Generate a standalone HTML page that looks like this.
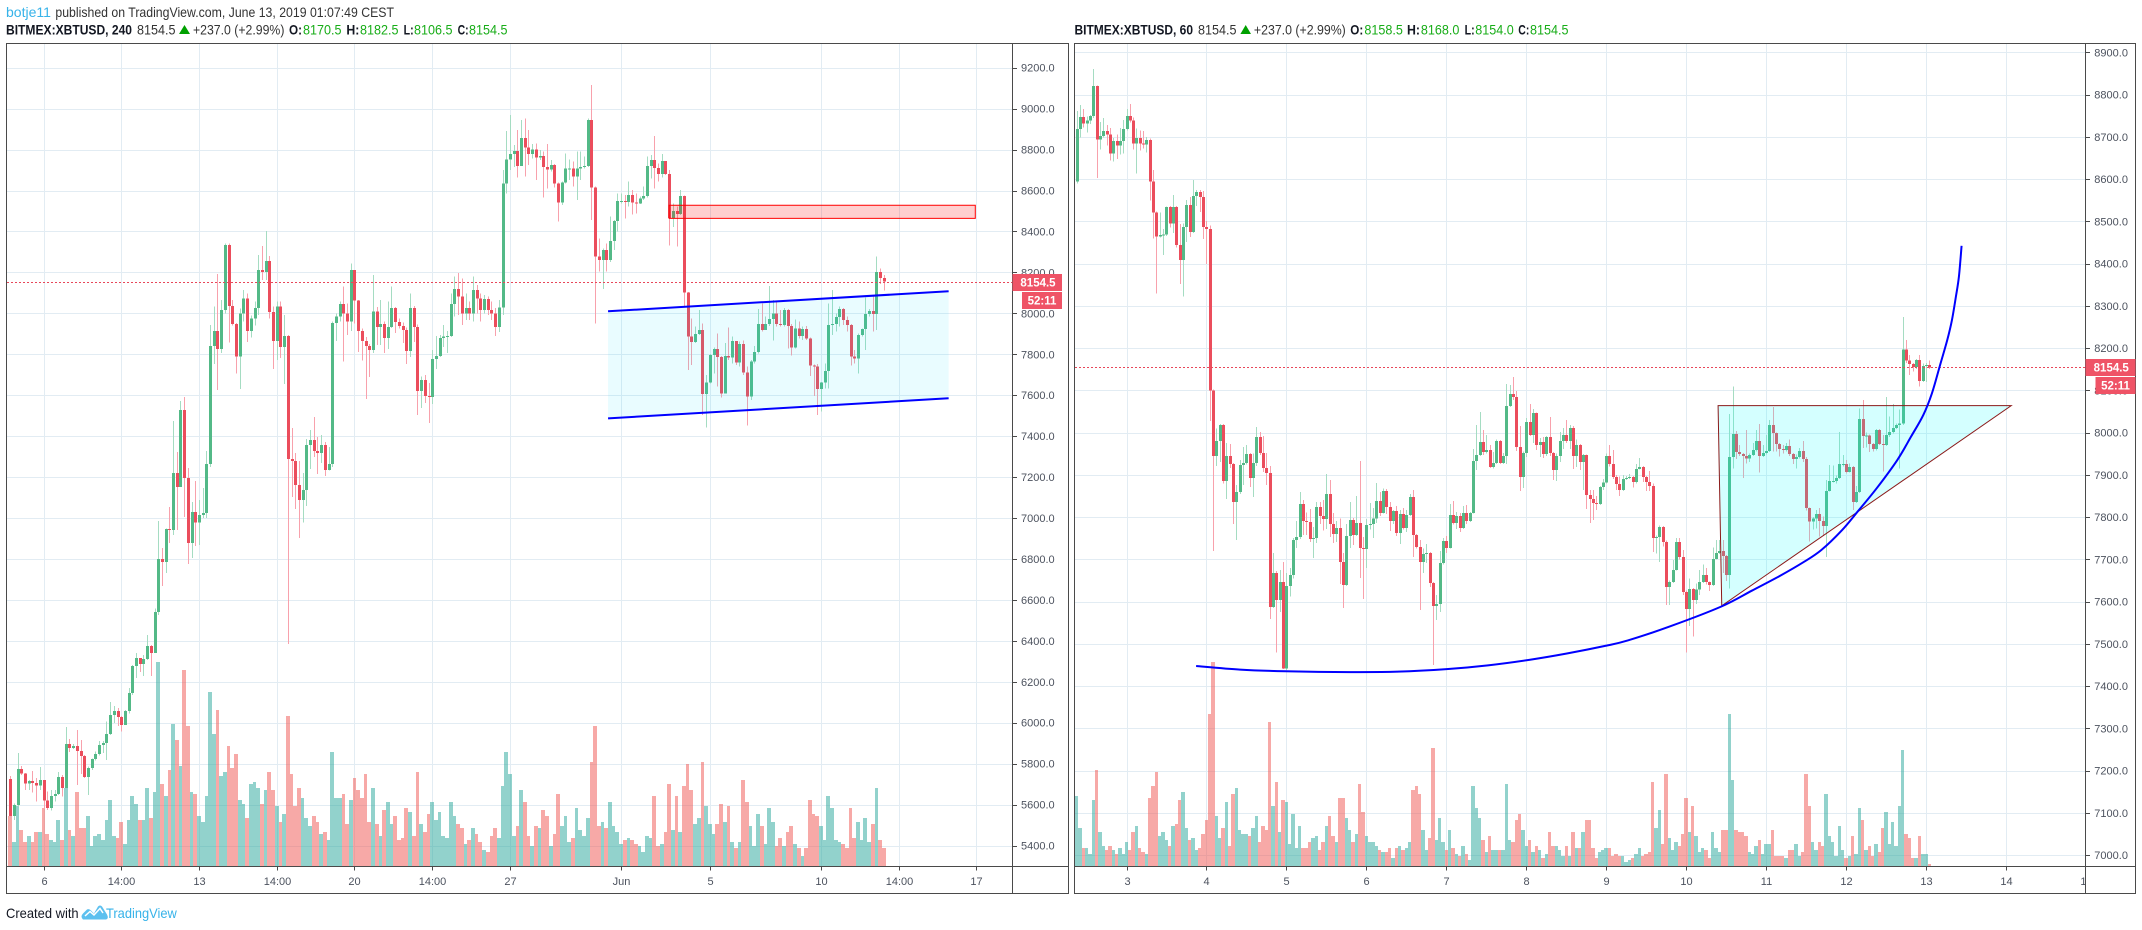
<!DOCTYPE html>
<html lang="en">
<head>
<meta charset="utf-8">
<title>BITMEX:XBTUSD charts</title>
<style>
html,body{margin:0;padding:0;background:#fff;}
svg{display:block;font-family:"Liberation Sans",sans-serif;}
.hdr{font-size:14px;fill:#333;}
.b{font-weight:bold;fill:#131722;}
.g{fill:#18ad18;}
.ax{font-size:11px;fill:#4c525e;}
.blab{font-size:11.5px;font-weight:bold;fill:#fff;text-anchor:middle;}
</style>
</head>
<body>
<svg id="root" width="2142" height="930" viewBox="0 0 2142 930" xmlns="http://www.w3.org/2000/svg">
  <defs>
    <clipPath id="clipL"><rect x="7" y="44" width="1005" height="822"/></clipPath>
    <clipPath id="clipR"><rect x="1075" y="44" width="1010" height="822"/></clipPath>
    <clipPath id="clipRT"><rect x="1075" y="867" width="1010" height="26"/></clipPath>
  </defs>
  <rect x="0" y="0" width="2142" height="930" fill="#fff"/>

  <text x="6" y="17" class="hdr" style="fill:#37b3e9" textLength="45" lengthAdjust="spacingAndGlyphs">botje11</text>
  <text x="55.4" y="17" class="hdr" textLength="338.6" lengthAdjust="spacingAndGlyphs">published on TradingView.com, June 13, 2019 01:07:49 CEST</text>

  <g>
    <text x="6" y="34.5" class="hdr b" textLength="126" lengthAdjust="spacingAndGlyphs">BITMEX:XBTUSD, 240</text>
    <text x="137" y="34.5" class="hdr" textLength="38.5" lengthAdjust="spacingAndGlyphs">8154.5</text>
    <polygon points="179,34 190,34 184.5,25" fill="#00a000"/>
    <text x="193" y="34.5" class="hdr" textLength="91.4" lengthAdjust="spacingAndGlyphs">+237.0 (+2.99%)</text>
    <text x="289" y="34.5" class="hdr b" textLength="13" lengthAdjust="spacingAndGlyphs">O:</text>
    <text x="303" y="34.5" class="hdr g" textLength="38.5" lengthAdjust="spacingAndGlyphs">8170.5</text>
    <text x="346.4" y="34.5" class="hdr b" textLength="13" lengthAdjust="spacingAndGlyphs">H:</text>
    <text x="360" y="34.5" class="hdr g" textLength="38.5" lengthAdjust="spacingAndGlyphs">8182.5</text>
    <text x="403.6" y="34.5" class="hdr b" textLength="10" lengthAdjust="spacingAndGlyphs">L:</text>
    <text x="414" y="34.5" class="hdr g" textLength="38.5" lengthAdjust="spacingAndGlyphs">8106.5</text>
    <text x="457.6" y="34.5" class="hdr b" textLength="11" lengthAdjust="spacingAndGlyphs">C:</text>
    <text x="469" y="34.5" class="hdr g" textLength="38.5" lengthAdjust="spacingAndGlyphs">8154.5</text>
  </g>

  <g>
    <text x="1074.5" y="34.5" class="hdr b" textLength="118.5" lengthAdjust="spacingAndGlyphs">BITMEX:XBTUSD, 60</text>
    <text x="1198" y="34.5" class="hdr" textLength="38.5" lengthAdjust="spacingAndGlyphs">8154.5</text>
    <polygon points="1240.4,34 1251,34 1245.7,25" fill="#00a000"/>
    <text x="1253.9" y="34.5" class="hdr" textLength="91.9" lengthAdjust="spacingAndGlyphs">+237.0 (+2.99%)</text>
    <text x="1350.3" y="34.5" class="hdr b" textLength="13" lengthAdjust="spacingAndGlyphs">O:</text>
    <text x="1364.4" y="34.5" class="hdr g" textLength="38.5" lengthAdjust="spacingAndGlyphs">8158.5</text>
    <text x="1407" y="34.5" class="hdr b" textLength="13" lengthAdjust="spacingAndGlyphs">H:</text>
    <text x="1420.9" y="34.5" class="hdr g" textLength="38.5" lengthAdjust="spacingAndGlyphs">8168.0</text>
    <text x="1464.6" y="34.5" class="hdr b" textLength="10" lengthAdjust="spacingAndGlyphs">L:</text>
    <text x="1475.3" y="34.5" class="hdr g" textLength="38.5" lengthAdjust="spacingAndGlyphs">8154.0</text>
    <text x="1518.3" y="34.5" class="hdr b" textLength="11" lengthAdjust="spacingAndGlyphs">C:</text>
    <text x="1530" y="34.5" class="hdr g" textLength="38.5" lengthAdjust="spacingAndGlyphs">8154.5</text>
  </g>

  <g id="leftPanel"></g>
  <g id="rightPanel"></g>

  <g>
    <text x="6" y="918" class="hdr" style="fill:#131722" textLength="72.6" lengthAdjust="spacingAndGlyphs">Created with</text>
    <path d="M83 919.5q-3-3 0-6l4-4q2-1 4 1l3 3 4-7q2-2 4 0l5 8q2 4-1 5z" fill="#5cc0ef"/>
    <polyline points="85,916 90,911.5 94,915 100,908.5 103,913" fill="none" stroke="#fff" stroke-width="1.5"/>
    <text x="106" y="918" class="hdr" style="fill:#37b3e9" textLength="70.8" lengthAdjust="spacingAndGlyphs">TradingView</text>
  </g>
</svg>

<script>
/* ---------- Left chart (240 min) data ---------- */
var leftFirstOpen = 5726;
var leftCloses = [
5545,5599,5775,5752,5703,5716,5706,5693,5721,5620,
5584,5643,5652,5735,5682,5897,5877,5887,5863,5838,
5735,5779,5823,5848,5892,5902,5946,6038,6058,6029,
5990,6058,6146,6278,6317,6287,6312,6375,6341,6541,
6801,6786,6947,6942,7221,7152,7528,7196,6879,7030,
6977,7016,7025,7265,7841,7914,7826,8017,8334,8036,
7948,7789,8000,8073,7914,7976,8025,8212,8202,8256,
8007,7865,8033,7836,7890,7289,7279,7162,7089,7138,
7357,7382,7328,7318,7357,7235,7265,7953,7984,8046,
8000,7960,8212,8062,7914,7865,7841,7821,8008,7934,
7948,7880,7934,8025,7958,7939,7919,7817,8025,7934,
7621,7675,7597,7592,7777,7792,7880,7887,7890,8046,
8119,8082,8000,8025,8000,8114,8073,8016,8070,8016,
8000,7934,8028,8635,8752,8778,8793,8721,8856,8809,
8778,8801,8762,8768,8716,8703,8725,8635,8541,8640,
8708,8708,8668,8708,8716,8720,8944,8614,8277,8261,
8309,8261,8353,8451,8549,8549,8544,8578,8541,8536,
8560,8573,8720,8749,8711,8681,8744,8681,8466,8500,
8485,8573,8101,7886,7860,7899,7919,7606,7663,7797,
7826,7787,7609,7792,7784,7865,7761,7850,7710,7593,
7764,7810,7948,7919,7948,7972,8000,7948,7943,8016,
7938,7832,7927,7889,7924,7878,7744,7740,7631,7663,
7718,7943,7948,7981,8021,7968,7943,7788,7779,7893,
7924,7997,8011,7997,8202,8173,8154.5];
var leftHighs = [
5740,5605,5853,5789,5755,5720,5765,5729,5784,5721,
5664,5672,5672,5760,5745,5980,5921,5897,5965,5916,
5843,5786,5825,5859,5911,5911,6006,6102,6082,6071,
6033,6063,6170,6283,6341,6317,6331,6429,6380,6559,
6986,6854,6950,7055,7475,7323,7572,7592,7245,7079,
7182,7089,7147,7328,7944,8033,8193,8066,8342,8342,
8065,7952,8024,8114,8098,7990,8057,8285,8329,8402,
8280,8033,8057,8057,7992,7895,7440,7318,7279,7221,
7387,7431,7494,7397,7406,7372,7348,7960,8000,8057,
8130,8049,8244,8130,8065,7925,7885,7851,8187,8030,
8065,7960,8057,8130,8030,7975,7955,7930,8098,8035,
7945,7691,7699,7660,7821,7890,7895,7944,7914,8098,
8179,8196,8171,8098,8057,8179,8138,8098,8090,8082,
8057,8025,8065,8700,8891,8969,8822,8895,8944,8952,
8895,8827,8830,8798,8790,8827,8749,8729,8638,8643,
8782,8752,8741,8790,8790,8765,8952,9115,8620,8366,
8317,8342,8472,8456,8586,8586,8578,8643,8602,8586,
8570,8619,8765,8773,8866,8733,8778,8744,8700,8537,
8521,8602,8575,8104,7976,7935,8016,7951,7699,7802,
7834,7902,7792,7854,7932,7886,7865,7862,7867,7740,
7772,7841,8020,8049,7984,8134,8065,8062,8016,8025,
8020,7948,7971,7959,7935,7938,7881,7751,7753,7665,
7756,8049,8114,8000,8033,8025,7984,7948,7821,7902,
7927,8078,8020,8090,8277,8220,8187];
var leftLows = [
5530,5525,5590,5745,5672,5672,5659,5615,5672,5578,
5574,5571,5615,5648,5640,5682,5858,5871,5696,5750,
5729,5648,5770,5815,5841,5851,5819,5941,5998,5985,
5957,5990,6046,6136,6219,6248,6229,6307,6229,6341,
6527,6669,6732,6879,6918,6942,7152,7006,6776,6806,
6864,6869,7001,7001,7250,7753,7626,7807,8000,7857,
7940,7707,7631,7960,7860,7883,7940,7992,8163,8163,
7976,7729,7773,7782,7655,6385,7103,7045,6903,6977,
7060,7240,7299,7216,7270,7206,7232,7250,7865,7960,
7764,7895,7914,7950,7810,7769,7582,7690,7807,7846,
7846,7807,7826,7929,7904,7927,7856,7753,7787,7860,
7504,7538,7563,7465,7558,7729,7787,7836,7807,7885,
7984,7992,7943,7967,7967,7959,8000,7959,8000,7992,
7967,7890,7909,7992,8586,8700,8716,8664,8721,8668,
8725,8757,8651,8749,8565,8611,8692,8615,8448,8529,
8635,8651,8619,8554,8651,8708,8716,8456,7951,8204,
8120,8204,8252,8309,8399,8537,8464,8521,8484,8488,
8534,8554,8567,8659,8611,8643,8663,8676,8331,8423,
8326,8480,8033,7723,7748,7854,7894,7504,7442,7658,
7707,7642,7588,7642,7772,7756,7748,7740,7699,7451,
7577,7756,7805,7911,7919,7938,7867,7935,7935,7935,
7829,7793,7829,7878,7870,7870,7694,7596,7504,7520,
7634,7634,7894,7911,7935,7943,7911,7744,7756,7707,
7886,7821,7984,7911,7919,8143,8111];
var leftVolumes = [
25,12,30,18,12,15,12,17,17,29,
16,13,12,23,13,39,18,15,37,19,
19,25,10,15,16,13,23,33,15,14,
22,11,23,35,31,23,23,39,24,37,
102,41,35,48,71,63,50,98,70,37,
36,25,22,35,87,66,78,45,47,60,
49,56,33,31,24,41,42,39,31,38,
47,38,30,22,26,75,46,30,39,34,
24,20,25,22,16,17,13,57,34,34,
36,21,33,44,38,34,46,22,39,21,
15,28,32,21,25,13,14,29,27,15,
47,21,17,26,32,23,27,15,14,32,
25,21,19,11,13,19,16,12,8,7,
15,19,14,40,57,46,15,20,38,32,
15,10,20,19,28,25,10,16,36,20,
25,12,14,29,18,15,24,52,70,20,
22,19,32,20,17,11,13,14,13,11,
10,7,15,14,35,10,11,17,41,18,
35,17,40,51,38,21,24,52,30,21,
16,21,31,22,30,12,9,12,43,32,
20,10,26,20,11,29,22,10,14,10,
17,20,11,9,5,9,33,26,25,20,
13,35,29,13,12,11,9,29,14,22,
13,24,12,21,39,13,9];
var leftPriceTicks = [9200,9000,8800,8600,8400,8200,8000,7800,7600,7400,7200,7000,6800,6600,6400,6200,6000,5800,5600,5400];
var leftTimeLabels = ['6','14:00','13','14:00','20','14:00','27','Jun','5','10','14:00','17'];
var leftTimeBars = [9,30,51,72,93,114,135,165,189,219,240,261];
var leftLastPrice = 8154.5;
var channelBars = [161.5,253.5];
var channelUpper = [8010,8108];
var channelLower = [7487,7585];
var zoneBars = [178,260.7];
var zonePrices = [8528,8464];

/* ---------- Right chart (60 min) data ---------- */
var rightFirstOpen = 8594;
var rightCloses = [
8718,8747,8731,8739,8749,8820,8694,8702,8714,8706,
8660,8690,8679,8690,8719,8749,8738,8684,8697,8684,
8682,8693,8594,8521,8464,8468,8469,8534,8495,8534,
8444,8408,8487,8539,8475,8560,8569,8558,8487,8482,
8099,7945,7980,8018,7885,7945,7926,7836,7859,7923,
7928,7949,7893,7928,7990,7952,7916,7904,7587,7668,
7604,7646,7442,7637,7663,7746,7753,7831,7791,7788,
7748,7751,7824,7803,7795,7855,7784,7760,7774,7694,
7639,7755,7793,7758,7786,7727,7724,7781,7784,7796,
7838,7810,7862,7824,7791,7814,7762,7807,7774,7805,
7848,7758,7729,7694,7713,7715,7644,7590,7594,7691,
7743,7727,7805,7786,7803,7774,7810,7791,7810,7933,
7947,7978,7954,7959,7919,7928,7980,7928,7945,8063,
8091,8084,7966,7895,7952,8025,7994,8046,7971,7978,
7949,7990,7952,7911,7945,7980,7994,7980,8011,7945,
7971,7930,7947,7852,7843,7833,7831,7871,7882,7945,
7926,7895,7878,7864,7890,7893,7895,7883,7914,7919,
7895,7883,7874,7750,7753,7777,7741,7635,7646,7675,
7741,7706,7623,7582,7630,7604,7628,7646,7663,7646,
7639,7701,7715,7720,7708,7663,7942,7997,7954,7949,
7945,7938,7947,7959,7980,7945,7952,7956,8018,7999,
7973,7961,7959,7968,7949,7937,7942,7956,7937,7821,
7789,7796,7807,7791,7779,7862,7885,7885,7893,7926,
7926,7907,7919,7836,7859,8032,7992,7993,7973,7961,
8006,7973,7971,7994,8001,8011,8018,8022,8197,8170,
8162,8155,8172,8122,8158,8160,8154.5];
var rightHighs = [
8761,8775,8766,8748,8752,8861,8822,8735,8745,8728,
8721,8697,8705,8721,8740,8766,8778,8746,8720,8715,
8714,8700,8696,8622,8523,8521,8482,8535,8536,8562,
8536,8494,8495,8551,8558,8598,8574,8574,8572,8501,
8490,8102,8009,8020,8020,7975,7973,7928,7876,7935,
7966,7971,7952,7951,8013,8001,7992,7952,7921,7715,
7672,7675,7694,7668,7679,7750,7791,7859,7840,7811,
7819,7777,7836,7836,7840,7902,7888,7810,7791,7796,
7715,7784,7836,7798,7850,7933,7753,7795,7833,7822,
7881,7859,7867,7866,7836,7817,7826,7817,7822,7817,
7855,7864,7760,7746,7725,7736,7717,7646,7616,7720,
7750,7755,7831,7838,7812,7810,7826,7829,7812,7961,
8018,8049,8006,7994,7971,7954,7983,7982,7952,8115,
8113,8132,8098,8016,7955,8035,8068,8056,8048,7987,
7990,7992,8037,7954,7950,8001,8011,8030,8018,8016,
7983,7973,7949,7948,7864,7864,7850,7874,7890,7950,
7971,7959,7900,7896,7900,7897,7902,7897,7926,7940,
7921,7897,7909,7880,7756,7780,7779,7744,7650,7698,
7750,7750,7722,7626,7655,7632,7643,7675,7688,7679,
7648,7728,7746,7746,7746,7710,8044,8109,8004,7971,
7952,8006,7950,7975,8006,8020,7971,7994,8030,8061,
8000,7975,7970,7975,7983,7952,7948,7963,7980,7942,
7823,7800,7817,7821,7801,7888,7923,7922,7898,8001,
7947,7935,7927,7921,7874,8057,8077,8000,7995,7975,
8008,8008,7994,8084,8038,8068,8022,8055,8273,8219,
8184,8165,8174,8184,8164,8165,8170];
var rightLows = [
8590,8698,8722,8710,8730,8745,8603,8670,8698,8679,
8644,8641,8648,8658,8660,8715,8734,8670,8613,8667,
8672,8663,8549,8459,8329,8462,8420,8465,8485,8472,
8438,8352,8322,8451,8463,8472,8536,8522,8458,8399,
8027,7720,7921,7930,7879,7843,7916,7784,7746,7855,
7876,7924,7871,7848,7921,7947,7907,7876,7559,7585,
7480,7575,7440,7438,7612,7655,7727,7748,7758,7758,
7741,7703,7739,7784,7768,7772,7753,7739,7741,7642,
7585,7637,7727,7734,7755,7656,7606,7680,7770,7751,
7786,7803,7808,7807,7767,7784,7755,7736,7770,7765,
7802,7706,7725,7580,7668,7691,7635,7450,7556,7575,
7688,7715,7725,7782,7772,7765,7772,7784,7788,7808,
7911,7945,7947,7950,7916,7915,7925,7925,7925,7926,
8060,8077,7956,7862,7869,7942,7992,7975,7959,7942,
7940,7945,7945,7888,7885,7930,7961,7975,7961,7914,
7919,7911,7864,7819,7786,7793,7817,7829,7864,7880,
7920,7890,7864,7850,7862,7888,7890,7870,7880,7912,
7883,7862,7862,7717,7714,7694,7730,7592,7592,7644,
7673,7700,7616,7480,7542,7517,7594,7616,7644,7640,
7625,7637,7699,7712,7667,7649,7631,7915,7937,7945,
7892,7927,7930,7945,7955,7905,7942,7948,7954,7955,
7955,7943,7950,7955,7945,7926,7915,7938,7930,7815,
7742,7770,7773,7754,7755,7706,7860,7882,7880,7890,
7920,7903,7905,7817,7833,7857,7963,7965,7954,7955,
7958,7971,7908,7968,7990,7998,8008,7915,8018,8165,
8136,8144,8150,8109,8120,8120,8150];
var rightVolumes = [
35,19,9,9,6,33,48,17,10,8,
10,8,6,9,6,12,8,17,20,9,
7,6,34,40,47,15,17,13,10,20,
21,33,37,19,13,14,8,9,16,23,
76,102,25,14,19,32,10,36,39,18,
16,16,15,19,25,12,20,18,72,30,
42,17,33,32,11,26,9,20,9,9,
12,14,15,8,12,20,25,15,12,34,
34,24,18,12,16,41,27,15,12,12,
10,8,7,7,9,4,9,10,8,9,
12,38,40,36,18,8,14,59,13,24,
12,8,18,9,6,5,10,6,3,40,
29,24,13,7,15,8,8,8,8,41,
13,12,23,26,18,10,13,7,10,8,
4,6,17,10,10,8,5,10,5,17,
9,9,17,23,23,9,4,7,8,9,
9,5,6,5,5,2,3,4,6,9,
5,6,7,42,19,28,11,46,14,8,
12,10,16,34,17,30,15,7,9,8,
4,17,9,7,18,18,76,43,18,17,
17,15,7,6,10,13,6,11,11,18,
5,5,5,4,8,8,11,5,7,46,
30,12,8,12,10,36,15,12,5,20,
8,4,5,15,6,29,23,8,10,5,
11,7,19,27,11,22,10,30,58,16,
14,4,4,15,6,6,1];
var rightPriceTicks = [8900,8800,8700,8600,8500,8400,8300,8200,8100,8000,7900,7800,7700,7600,7500,7400,7300,7200,7100,7000];
var rightTimeLabels = ['3','4','5','6','7','8','9','10','11','12','13','14','15'];
var rightTimeBars = [15,39,63,87,111,135,159,183,207,231,255,279,303];
var rightLastPrice = 8154.5;
var triangleBars = [192.6,280.6,193.7];
var trianglePrices = [8063.6,8063.6,7590];
var curveBars = [35.9,49.1,62.8,82.1,96.5,111.1,123.5,135.9,147.2,158.7,165.5,177.9,193.5,202.8,211.1,218.4,223.6,229.8,234.5,240.2,246.4,250.5,254.2,256.8,259.4,261.4,262.8,264,264.9,265.7];
var curvePrices = [7447.5,7439,7435,7433,7434,7440,7449,7462,7477,7495,7508,7540.5,7588,7626,7660.5,7694,7722,7769,7813,7868,7935,7990,8041.5,8093,8164,8219,8266,8322,8369,8442];

/* ---------- Shared helpers ---------- */
var NS = 'http://www.w3.org/2000/svg';
function mk(tag, parent) {
  var el = document.createElementNS(NS, tag);
  parent.appendChild(el);
  return el;
}
function set(el, attrs) {
  for (var k in attrs) { el.setAttribute(k, attrs[k]); }
  return el;
}
var GRID = '#e2ecf3', AXIS = '#4a4a4a';
var UP = '#53b987', DOWN = '#eb4d5c', UPW = '#a5dcc2', DOWNW = '#f8a1ac';
var VUP = 'rgba(38,166,154,0.5)', VDOWN = 'rgba(239,83,80,0.5)';
var BASE_Y = 866, VOL_PX = 2;
var TOP_Y = 43.5, AXIS_Y = 866.5, BOTTOM_Y = 893.5;

function drawPanel(root, cfg) {
  var x = cfg.x, y = cfg.y;

  var grid = mk('g', root);
  
  
  cfg.priceTicks.forEach(function (p) {
    var gy = Math.round(y(p)) + 0.5;
    var l = set(mk('line', grid), {x1: cfg.left, x2: cfg.axisX, y1: gy, y2: gy, stroke: GRID, 'stroke-width': 1});
    
    
  });
  cfg.timeBars.forEach(function (b) {
    var gx = Math.round(x(b)) + 0.5;
    if (gx >= cfg.axisX) return;
    var l = set(mk('line', grid), {x1: gx, x2: gx, y1: TOP_Y, y2: AXIS_Y, stroke: GRID, 'stroke-width': 1});
    
    
  });

  var opens = cfg.closes.map(function (c, i) { return i === 0 ? cfg.firstOpen : cfg.closes[i - 1]; });

  var vols = set(mk('g', root), {'clip-path': cfg.clip, 'shape-rendering': 'crispEdges'});
  
  
  cfg.volumes.forEach(function (v, i) {
    var x0 = Math.round(x(i) - cfg.step / 2), x1 = Math.round(x(i) + cfg.step / 2);
    var up = cfg.closes[i] >= opens[i];
    var h = v * VOL_PX;
    var r = set(mk('rect', vols), {x: x0, y: BASE_Y - h, width: x1 - x0, height: h, fill: up ? VUP : VDOWN});
    
    
  });

  var candles = set(mk('g', root), {'clip-path': cfg.clip, 'shape-rendering': 'crispEdges'});
  
  
  cfg.closes.forEach(function (c, i) {
    var cx = Math.round(x(i));
    var up = c >= opens[i];
    var yh = y(cfg.highs[i]), yl = y(cfg.lows[i]);
    var w = set(mk('rect', candles), {x: cx, y: yh, width: 1, height: Math.max(1, yl - yh), fill: up ? UPW : DOWNW});
    
    
    var top = y(Math.max(c, opens[i])), bot = y(Math.min(c, opens[i]));
    var b = set(mk('rect', candles), {x: cx - 1, y: top, width: 3, height: Math.max(1, bot - top), fill: up ? UP : DOWN});
    
    
  });

  var py = Math.round(y(cfg.lastPrice)) + 0.5;
  var pl = set(mk('line', root), {x1: cfg.left, x2: cfg.axisX, y1: py, y2: py, stroke: '#e8475a', 'stroke-width': 1, 'stroke-dasharray': '2 2'});
  
  

  cfg.annotate(root);

  var axes = mk('g', root);
  
  
  var fr = set(mk('rect', axes), {x: cfg.left - 0.5, y: TOP_Y, width: cfg.right - cfg.left + 0.5, height: BOTTOM_Y - TOP_Y, fill: 'none', stroke: AXIS, 'stroke-width': 1});
  
  
  var pa = set(mk('line', axes), {x1: cfg.axisX + 0.5, x2: cfg.axisX + 0.5, y1: TOP_Y, y2: BOTTOM_Y, stroke: AXIS, 'stroke-width': 1});
  
  
  var ta = set(mk('line', axes), {x1: cfg.left, x2: cfg.right, y1: AXIS_Y, y2: AXIS_Y, stroke: AXIS, 'stroke-width': 1});
  
  

  cfg.priceTicks.forEach(function (p) {
    var gy = Math.round(y(p)) + 0.5;
    var t = set(mk('line', axes), {x1: cfg.axisX + 0.5, x2: cfg.axisX + 5, y1: gy, y2: gy, stroke: AXIS, 'stroke-width': 1});
    
    
    var lab = set(mk('text', axes), {x: cfg.axisX + cfg.labelOffset, y: y(p) + 4, 'class': 'ax'});
    lab.textContent = p.toFixed(1);
    
    
  });
  cfg.timeBars.forEach(function (b, k) {
    var gx = Math.round(x(b)) + 0.5;
    if (gx < cfg.axisX) {
      var t = set(mk('line', axes), {x1: gx, x2: gx, y1: AXIS_Y, y2: AXIS_Y + 4, stroke: AXIS, 'stroke-width': 1});
      
      
    }
    var lab = set(mk('text', axes), {x: gx, y: 885, 'class': 'ax', 'text-anchor': 'middle'});
    if (cfg.timeClip) lab.setAttribute('clip-path', cfg.timeClip);
    lab.textContent = cfg.timeLabels[k];
    
    
  });

  var b1 = set(mk('rect', root), {x: cfg.axisX + 0.5, y: py - 8.5, width: cfg.boxRight - cfg.axisX - 0.5, height: 17, fill: '#ef5366'});
  
  
  var t1 = set(mk('text', root), {x: (cfg.axisX + cfg.boxRight) / 2 + 1, y: py + 4, 'class': 'blab'});
  t1.textContent = cfg.lastPrice.toFixed(1);
  
  
  var b2 = set(mk('rect', root), {x: cfg.boxRight - 40, y: py + 9.5, width: 40, height: 17, fill: '#ef5366'});
  
  
  var t2 = set(mk('text', root), {x: cfg.boxRight - 20, y: py + 22, 'class': 'blab'});
  t2.textContent = '52:11';
  
  
}

/* ---------- Left chart ---------- */
function leftX(i) { return 43.5 + 3.702 * (i - 9); }
function leftY(p) { return 67.7 + (9200 - p) * 0.2047; }

drawPanel(document.getElementById('leftPanel'), {
  x: leftX, y: leftY, step: 3.702, left: 7, right: 1068.5, axisX: 1012, boxRight: 1062,
  labelOffset: 9, clip: 'url(#clipL)',
  closes: leftCloses, highs: leftHighs, lows: leftLows, volumes: leftVolumes, firstOpen: leftFirstOpen,
  priceTicks: leftPriceTicks, timeLabels: leftTimeLabels, timeBars: leftTimeBars, lastPrice: leftLastPrice,
  annotate: function (root) {
    var g = mk('g', root);
    
    
    var poly = [
      leftX(channelBars[0]) + ',' + leftY(channelUpper[0]),
      leftX(channelBars[1]) + ',' + leftY(channelUpper[1]),
      leftX(channelBars[1]) + ',' + leftY(channelLower[1]),
      leftX(channelBars[0]) + ',' + leftY(channelLower[0])
    ].join(' ');
    var f = set(mk('polygon', g), {points: poly, fill: 'rgba(0,225,255,0.085)'});
    
    
    var u = set(mk('line', g), {x1: leftX(channelBars[0]), y1: leftY(channelUpper[0]), x2: leftX(channelBars[1]), y2: leftY(channelUpper[1]), stroke: '#0000ff', 'stroke-width': 2});
    
    
    var d = set(mk('line', g), {x1: leftX(channelBars[0]), y1: leftY(channelLower[0]), x2: leftX(channelBars[1]), y2: leftY(channelLower[1]), stroke: '#0000ff', 'stroke-width': 2});
    
    
    var z = set(mk('rect', g), {
      x: leftX(zoneBars[0]), y: leftY(zonePrices[0]),
      width: leftX(zoneBars[1]) - leftX(zoneBars[0]), height: leftY(zonePrices[1]) - leftY(zonePrices[0]),
      fill: 'rgba(255,0,0,0.19)', stroke: '#ff0000', 'stroke-width': 1
    });
    
    
  }
});

/* ---------- Right chart ---------- */
function rightX(j) { return 1126.5 + 3.331 * (j - 15); }
function rightY(p) { return 52.3 + (8900 - p) * 0.4225; }

function smoothPath(xs, ys) {
  var d = 'M' + xs[0] + ' ' + ys[0];
  for (var i = 0; i < xs.length - 1; i++) {
    var a = Math.max(i - 1, 0), b = Math.min(i + 2, xs.length - 1);
    var c1x = xs[i] + (xs[i + 1] - xs[a]) / 6, c1y = ys[i] + (ys[i + 1] - ys[a]) / 6;
    var c2x = xs[i + 1] - (xs[b] - xs[i]) / 6, c2y = ys[i + 1] - (ys[b] - ys[i]) / 6;
    d += 'C' + c1x + ' ' + c1y + ' ' + c2x + ' ' + c2y + ' ' + xs[i + 1] + ' ' + ys[i + 1];
  }
  return d;
}

drawPanel(document.getElementById('rightPanel'), {
  x: rightX, y: rightY, step: 3.331, left: 1075, right: 2135.5, axisX: 2085, boxRight: 2135.5,
  labelOffset: 9.3, clip: 'url(#clipR)', timeClip: 'url(#clipRT)',
  closes: rightCloses, highs: rightHighs, lows: rightLows, volumes: rightVolumes, firstOpen: rightFirstOpen,
  priceTicks: rightPriceTicks, timeLabels: rightTimeLabels, timeBars: rightTimeBars, lastPrice: rightLastPrice,
  annotate: function (root) {
    var g = mk('g', root);
    
    
    var pts = triangleBars.map(function (b, k) { return rightX(b) + ',' + rightY(trianglePrices[k]); }).join(' ');
    var t = set(mk('polygon', g), {points: pts, fill: 'rgba(0,255,255,0.17)', stroke: '#8b1a1a', 'stroke-width': 1});
    
    
    var c = set(mk('path', g), {
      d: smoothPath(curveBars.map(rightX), curvePrices.map(rightY)),
      fill: 'none', stroke: '#0000ff', 'stroke-width': 2
    });
    
    
  }
});
</script>
</body>
</html>
